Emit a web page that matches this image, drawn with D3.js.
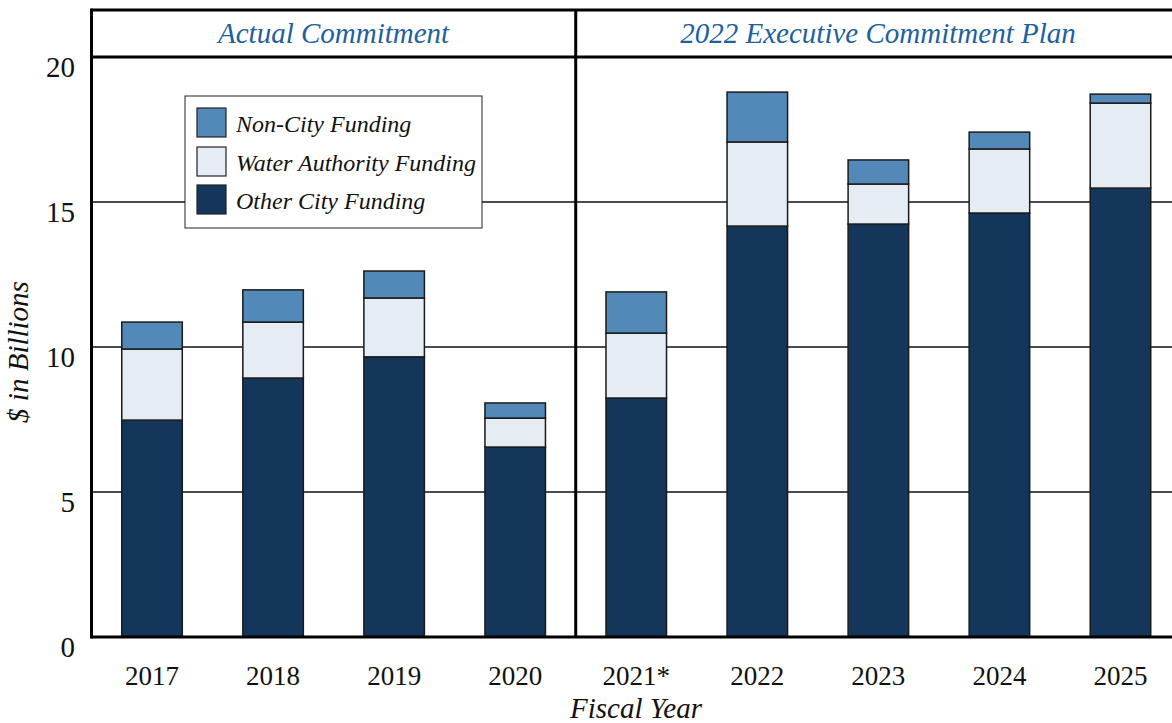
<!DOCTYPE html>
<html>
<head>
<meta charset="utf-8">
<script src="https://cdn.jsdelivr.net/npm/d3@7"></script>
<style>
  html, body { margin: 0; padding: 0; background: #fff; }
  svg { display: block; font-family: "Liberation Serif", "DejaVu Serif", serif; }
</style>
</head>
<body>
<div id="chart"></div>
<script>
// data ($ billions)
let years = ["2017", "2018", "2019", "2020", "2021*", "2022", "2023", "2024", "2025"];
let otherCity = [7.48, 8.93, 9.66, 6.55, 8.24, 14.17, 14.24, 14.62, 15.48];
let waterAuth = [2.45, 1.93, 2.03, 1.00, 2.24, 2.90, 1.38, 2.21, 2.93];
let nonCity = [0.93, 1.11, 0.93, 0.52, 1.42, 1.72, 0.83, 0.58, 0.31];
let seriesNames = ["Other City Funding", "Water Authority Funding", "Non-City Funding"];
let panelTitles = ["Actual Commitment", "2022 Executive Commitment Plan"];
let yTicks = [0, 5, 10, 15, 20];

let chart_width = 1172;
let chart_height = 723;
let plot_left = 91.5, plot_right = 1181, frame_top = 10, header_bottom = 57, plot_bottom = 637;

let colors = {
    "Other City Funding": "#14365a",
    "Water Authority Funding": "#e5ecf3",
    "Non-City Funding": "#5289b8"
};

let svg = d3.select("#chart").append("svg")
    .attr("width", chart_width)
    .attr("height", chart_height);

let x = d3.scaleBand()
    .domain(years)
    .range([plot_left, plot_right])
    .paddingInner(0.5)
    .paddingOuter(0.25);

let y = d3.scaleLinear()
    .domain([0, 20])
    .range([plot_bottom, header_bottom]);

// gridlines
svg.append("g")
    .selectAll("line")
    .data(yTicks.filter(d => d > 0 && d < 20))
    .enter()
    .append("line")
    .attr("x1", plot_left)
    .attr("x2", chart_width)
    .attr("y1", d => y(d))
    .attr("y2", d => y(d))
    .style("stroke", "#111")
    .style("stroke-width", 1.6);

// stacked bars
let rows = years.map((yr, i) => ({
    year: yr,
    "Other City Funding": otherCity[i],
    "Water Authority Funding": waterAuth[i],
    "Non-City Funding": nonCity[i]
}));
let stacked = d3.stack().keys(seriesNames)(rows);

svg.append("g")
    .selectAll("g")
    .data(stacked)
    .enter()
    .append("g")
    .style("fill", d => colors[d.key])
    .selectAll("rect")
    .data(d => d)
    .enter()
    .append("rect")
    .attr("x", d => x(d.data.year))
    .attr("width", x.bandwidth())
    .attr("y", d => y(d[1]))
    .attr("height", d => y(d[0]) - y(d[1]))
    .style("stroke", "#1a1a1a")
    .style("stroke-width", 1.5);

// frame
let frame = svg.append("g").style("stroke", "#000").style("stroke-width", 3).style("fill", "none");
let divider = x(years[4]) - x.step() * x.paddingInner() / 2;
frame.append("line").attr("x1", plot_left).attr("x2", chart_width).attr("y1", frame_top).attr("y2", frame_top);
frame.append("line").attr("x1", plot_left).attr("x2", chart_width).attr("y1", y(20)).attr("y2", y(20));
frame.append("line").attr("x1", plot_left).attr("x2", plot_left).attr("y1", frame_top - 1.5).attr("y2", plot_bottom + 1.5);
frame.append("line").attr("x1", divider).attr("x2", divider).attr("y1", frame_top).attr("y2", plot_bottom);
frame.append("line").attr("x1", plot_left).attr("x2", chart_width).attr("y1", plot_bottom).attr("y2", plot_bottom);

// panel titles
let panelCenters = [(plot_left + divider) / 2, 878];
svg.selectAll(".panel-title")
    .data(panelTitles)
    .enter()
    .append("text")
    .attr("class", "panel-title")
    .attr("x", (d, i) => panelCenters[i])
    .attr("y", 43)
    .attr("text-anchor", "middle")
    .style("font-style", "italic")
    .style("font-size", "29px")
    .style("fill", "#1e5f9e")
    .text(d => d);

// y axis labels
svg.append("g")
    .selectAll("text")
    .data(yTicks)
    .enter()
    .append("text")
    .attr("x", 75)
    .attr("y", d => y(d) + 19.5)
    .attr("text-anchor", "end")
    .style("font-size", "29px")
    .style("fill", "#111")
    .text(d => d);

// x axis labels
svg.append("g")
    .selectAll("text")
    .data(years)
    .enter()
    .append("text")
    .attr("x", d => x(d) + x.bandwidth() / 2)
    .attr("y", 685)
    .attr("text-anchor", "middle")
    .style("font-size", "27px")
    .style("fill", "#111")
    .text(d => d);

// axis titles
svg.append("text")
    .attr("x", 636)
    .attr("y", 718)
    .attr("text-anchor", "middle")
    .style("font-style", "italic")
    .style("font-size", "29px")
    .style("fill", "#111")
    .text("Fiscal Year");

svg.append("text")
    .attr("transform", "translate(28," + 352 + ") rotate(-90)")
    .attr("text-anchor", "middle")
    .style("font-style", "italic")
    .style("font-size", "29px")
    .style("fill", "#111")
    .text("$ in Billions");

// legend
let legend = svg.append("g").attr("transform", "translate(185,96)");
legend.append("rect")
    .attr("width", 297)
    .attr("height", 132)
    .style("fill", "#fff")
    .style("stroke", "#222")
    .style("stroke-width", 1);
let legendItems = seriesNames.slice().reverse();
let legendRows = [12, 51, 89];
legend.selectAll(".swatch")
    .data(legendItems)
    .enter()
    .append("rect")
    .attr("class", "swatch")
    .attr("x", 12)
    .attr("y", (d, i) => legendRows[i])
    .attr("width", 29)
    .attr("height", 29)
    .style("fill", d => colors[d])
    .style("stroke", "#222")
    .style("stroke-width", 1.2);
legend.selectAll(".label")
    .data(legendItems)
    .enter()
    .append("text")
    .attr("class", "label")
    .attr("x", 51)
    .attr("y", (d, i) => legendRows[i] + 24)
    .style("font-style", "italic")
    .style("font-size", "24px")
    .style("fill", "#111")
    .text(d => d);
</script>
</body>
</html>
